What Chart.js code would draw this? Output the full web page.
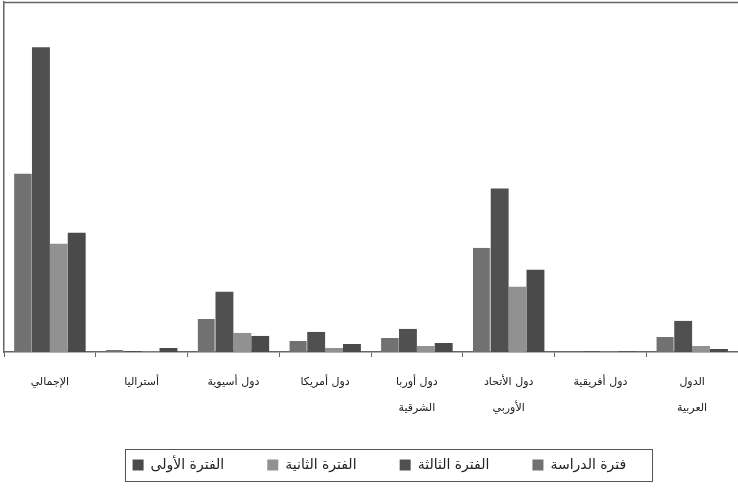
<!DOCTYPE html>
<html>
<head>
<meta charset="utf-8">
<script src="https://cdn.jsdelivr.net/npm/chart.js@4.4.0/dist/chart.umd.min.js"></script>
<style>
  html, body { margin: 0; padding: 0; background: #fff; }
  #wrap { width: 738px; height: 489px; position: relative; }
</style>
</head>
<body>
<div id="wrap"><canvas id="chart"></canvas></div>
<script>
// categories in Arabic reading order (right to left on the chart)
const categories = [
    ['الدول', 'العربية'],
    'دول أفريقية',
    ['دول الأتحاد', 'الأوربي'],
    ['دول أوربا', 'الشرقية'],
    'دول أمريكا',
    'دول أسيوية',
    'أستراليا',
    'الإجمالي'
];

// series, same order as categories
const studyPeriod  = [15, 0.6, 104, 14, 11, 33, 2, 178];   // فترة الدراسة
const thirdPeriod  = [31, 0.6, 163, 23, 20, 60, 1, 304];   // الفترة الثالثة
const secondPeriod = [6, 0.4, 65, 6, 4, 19, 0.5, 108];     // الفترة الثانية
const firstPeriod  = [3, 0.5, 82, 9, 8, 16, 4, 119];       // الفترة الأولى

const frame = {
    id: 'frame',
    afterLayout(chart) {
        // legend sits a bit right of centre in the original
        chart.legend.left += 24;
        chart.legend.right += 24;
    },
    afterDraw(chart) {
        const ctx = chart.ctx;
        const a = chart.chartArea;
        ctx.save();
        ctx.strokeStyle = '#666';
        ctx.lineWidth = 1.5;
        ctx.beginPath();
        ctx.moveTo(a.left, a.top + 0.5);
        ctx.lineTo(a.right, a.top + 0.5);
        ctx.stroke();
        // legend box
        const boxes = chart.legend.legendHitBoxes;
        if (boxes && boxes.length) {
            let l = Infinity, r = -Infinity, t = Infinity, b = -Infinity;
            boxes.forEach(h => {
                l = Math.min(l, h.left); r = Math.max(r, h.left + h.width);
                t = Math.min(t, h.top); b = Math.max(b, h.top + h.height);
            });
            ctx.strokeStyle = '#555';
            ctx.lineWidth = 1;
            ctx.strokeRect(Math.round(l - 8) + 0.5, Math.round(t - 9) + 0.5, Math.round(r - l + 2), 32);
        }
        ctx.restore();
    }
};

new Chart(document.getElementById('chart'), {
    type: 'bar',
    data: {
        labels: categories,
        datasets: [
            { label: 'فترة الدراسة', data: studyPeriod, backgroundColor: '#717171', borderColor: '#9a9a9a', borderWidth: {right: 1} },
            { label: 'الفترة الثالثة', data: thirdPeriod, backgroundColor: '#505050' },
            { label: 'الفترة الثانية', data: secondPeriod, backgroundColor: '#919191' },
            { label: 'الفترة الأولى', data: firstPeriod, backgroundColor: '#4a4a4a' }
        ]
    },
    options: {
        responsive: true,
        maintainAspectRatio: false,
        animation: false,
        layout: { padding: { left: 4, right: 0, top: 2, bottom: 7 } },
        datasets: {
            bar: { categoryPercentage: 0.78, barPercentage: 1.0 }
        },
        plugins: {
            legend: {
                position: 'bottom',
                reverse: true,
                labels: {
                    boxWidth: 11,
                    boxHeight: 11,
                    padding: 12,
                    color: '#222',
                    font: { family: 'DejaVu Sans', size: 14 },
                    generateLabels(chart) {
                        const items = Chart.defaults.plugins.legend.labels.generateLabels(chart);
                        items.forEach(it => { it.text = it.text + '\u00a0'.repeat(7); it.lineWidth = 0; });
                        return items;
                    }
                }
            },
            tooltip: { enabled: false }
        },
        scales: {
            x: {
                reverse: true,
                grid: { display: true, drawOnChartArea: false, drawTicks: true, tickLength: 5, offset: true, color: '#666' },
                border: { display: true, color: '#666', width: 1.5 },
                ticks: {
                    color: '#222',
                    maxRotation: 0,
                    autoSkip: false,
                    padding: 12,
                    font: { family: 'DejaVu Sans', size: 11, lineHeight: 2.4 }
                },
                afterFit(scale) { scale.height = 94; }
            },
            y: {
                min: 0,
                max: 349,
                grid: { display: false, drawTicks: false },
                border: { display: true, color: '#666', width: 1.5 },
                ticks: { display: false }
            }
        }
    },
    plugins: [frame]
});
</script>
</body>
</html>
